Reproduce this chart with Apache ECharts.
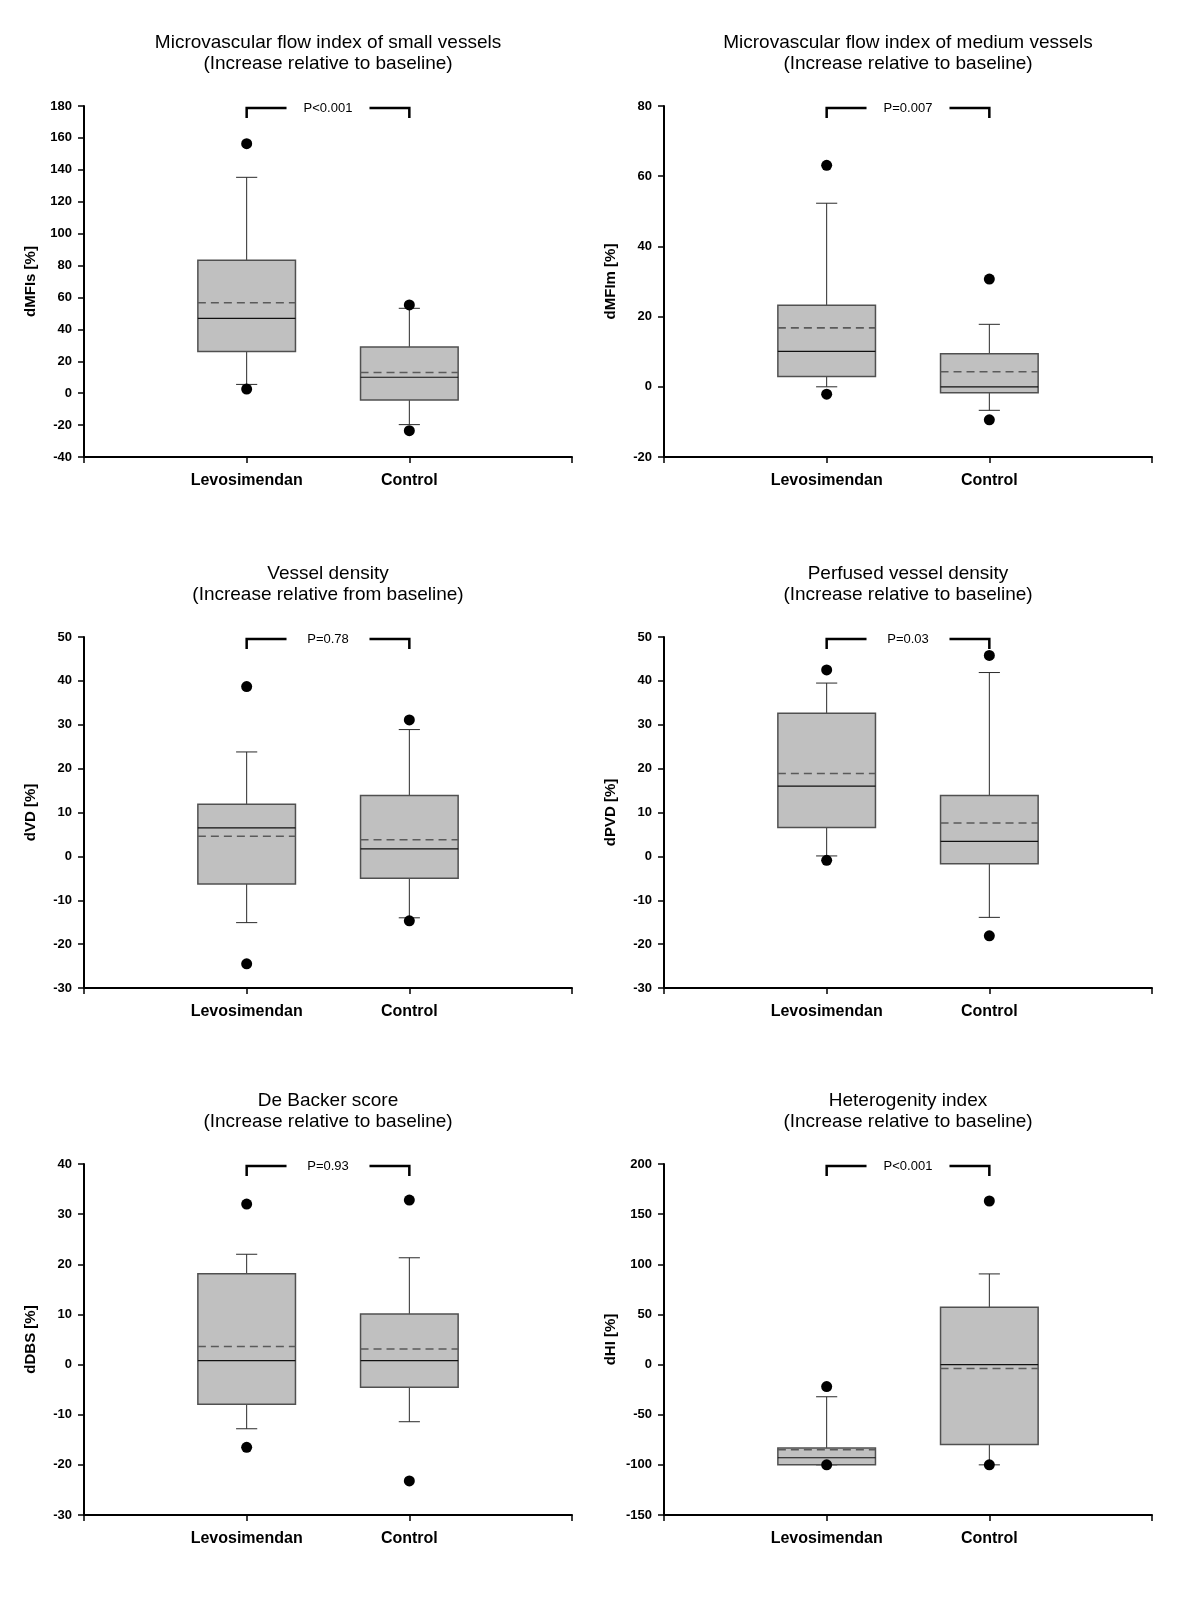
<!DOCTYPE html>
<html>
<head>
<meta charset="utf-8">
<script src="https://cdn.jsdelivr.net/npm/echarts@6/dist/echarts.min.js"></script>
<style>
html, body { margin: 0; padding: 0; background: #fff; }
#chart { width: 1200px; height: 1600px; }
</style>
</head>
<body>
<div id="chart"></div>
<script>
// groups on the x axis (placed at x = 1 and x = 2)
var groups = ['Levosimendan', 'Control'];

var titles = [
	'Microvascular flow index of small vessels\n(Increase relative to baseline)',
	'Microvascular flow index of medium vessels\n(Increase relative to baseline)',
	'Vessel density\n(Increase relative from baseline)',
	'Perfused vessel density\n(Increase relative to baseline)',
	'De Backer score\n(Increase relative to baseline)',
	'Heterogenity index\n(Increase relative to baseline)'
];
var axisNames = ['dMFIs [%]', 'dMFIm [%]', 'dVD [%]', 'dPVD [%]', 'dDBS [%]', 'dHI [%]'];
var pValues = ['P<0.001', 'P=0.007', 'P=0.78', 'P=0.03', 'P=0.93', 'P<0.001'];

var yMin = [-40, -20, -30, -30, -30, -150];
var yMax = [180, 80, 50, 50, 40, 200];
var yStep = [20, 20, 10, 10, 10, 50];

// box stats: [lower whisker, Q1, median, Q3, upper whisker, mean]
var levoStats = [
	[5.5, 26.2, 46.9, 83.3, 135.3, 56.7],
	[0, 2.9, 10.1, 23.2, 52.3, 16.8],
	[-15.1, -6.3, 6.5, 11.9, 23.8, 4.6],
	[0.1, 6.6, 16, 32.6, 39.5, 18.9],
	[-12.8, -7.9, 0.8, 18.1, 22, 3.6],
	[-100, -100, -92.9, -83.3, -32.1, -84.9]
];
var controlStats = [
	[-19.7, -4.3, 10, 29, 53.2, 13],
	[-6.7, -1.7, 0, 9.4, 17.8, 4.3],
	[-14, -5, 1.7, 13.9, 28.9, 3.8],
	[-13.9, -1.7, 3.4, 13.9, 41.9, 7.6],
	[-11.4, -4.5, 0.8, 10.1, 21.3, 3.1],
	[-100, -79.6, 0, 57.2, 90.4, -3.9]
];
// dots outside the whiskers: [low, high]
var levoOutliers = [
	[2.6, 156.4],
	[-2.1, 63.1],
	[-24.5, 38.7],
	[-0.9, 42.5],
	[-16.5, 32],
	[-100, -21.9]
];
var controlOutliers = [
	[-23.5, 55.3],
	[-9.4, 30.7],
	[-14.7, 31.1],
	[-18.1, 45.8],
	[-23.2, 32.8],
	[-100, 163.1]
];

var FONT = '"Liberation Sans", Arial, Helvetica, sans-serif';

function renderBox(params, api) {
	var x = api.value(0);
	var lo = api.coord([x, api.value(1)]);
	var q1 = api.coord([x, api.value(2)]);
	var med = api.coord([x, api.value(3)]);
	var q3 = api.coord([x, api.value(4)]);
	var hi = api.coord([x, api.value(5)]);
	var mean = api.coord([x, api.value(6)]);
	var unit = api.size([1, 0])[0];
	var bw = unit * 0.3, cw = unit * 0.065;
	var cx = q1[0];
	return {
		type: 'group',
		children: [
			{ type: 'line', shape: { x1: cx, y1: hi[1], x2: cx, y2: q3[1] }, style: { stroke: '#2a2a2a', lineWidth: 1 } },
			{ type: 'line', shape: { x1: cx - cw, y1: hi[1], x2: cx + cw, y2: hi[1] }, style: { stroke: '#2a2a2a', lineWidth: 1 } },
			{ type: 'line', shape: { x1: cx, y1: q1[1], x2: cx, y2: lo[1] }, style: { stroke: '#2a2a2a', lineWidth: 1 } },
			{ type: 'line', shape: { x1: cx - cw, y1: lo[1], x2: cx + cw, y2: lo[1] }, style: { stroke: '#2a2a2a', lineWidth: 1 } },
			{ type: 'rect', shape: { x: cx - bw, y: q3[1], width: 2 * bw, height: q1[1] - q3[1] },
				style: { fill: '#c0c0c0', stroke: '#505050', lineWidth: 1.5 } },
			{ type: 'line', shape: { x1: cx - bw, y1: med[1], x2: cx + bw, y2: med[1] },
				style: { stroke: '#111', lineWidth: 1.2 } },
			{ type: 'line', shape: { x1: cx - bw, y1: mean[1], x2: cx + bw, y2: mean[1] },
				style: { stroke: '#5a5a5a', lineWidth: 1.6, lineDash: [8, 5] } }
		]
	};
}

function makeBracket(label) {
	return function (params, api) {
		var a = api.coord([api.value(0), api.value(2)]);
		var b = api.coord([api.value(1), api.value(2)]);
		var unit = b[0] - a[0];
		var y = a[1] + 2;
		return {
			type: 'group',
			children: [
				{ type: 'polyline', shape: { points: [[a[0], y + 10], [a[0], y], [a[0] + unit * 0.245, y]] },
					style: { stroke: '#000', lineWidth: 2.5, fill: 'none' } },
				{ type: 'polyline', shape: { points: [[b[0] - unit * 0.245, y], [b[0], y], [b[0], y + 10]] },
					style: { stroke: '#000', lineWidth: 2.5, fill: 'none' } },
				{ type: 'text', x: (a[0] + b[0]) / 2, y: y,
					style: { text: label, fill: '#000', font: '13px ' + FONT, align: 'center', verticalAlign: 'middle' } }
			]
		};
	};
}

var colLeft = [84, 664];
var rowTop = [106, 637, 1164];
var gw = 488, gh = 351;

var option = { animation: false, backgroundColor: '#fff', title: [], grid: [], xAxis: [], yAxis: [], series: [] };

for (var i = 0; i < 6; i++) {
	var gLeft = colLeft[i % 2], gTop = rowTop[Math.floor(i / 2)];
	option.title.push({
		text: titles[i],
		left: gLeft + gw / 2,
		top: gTop - 74,
		textAlign: 'center',
		padding: 0,
		textStyle: { fontFamily: FONT, fontSize: 19, fontWeight: 'normal', color: '#000', lineHeight: 21 }
	});
	option.grid.push({ left: gLeft, top: gTop, width: gw, height: gh, containLabel: false });
	option.xAxis.push({
		type: 'value', gridIndex: i, min: 0, max: 3, interval: 1,
		splitLine: { show: false },
		axisLine: { show: true, onZero: false, lineStyle: { color: '#000', width: 2 } },
		axisTick: { show: true, inside: false, length: 6, lineStyle: { color: '#000', width: 1.5 } },
		axisLabel: {
			margin: 16, color: '#000', fontFamily: FONT, fontSize: 16, fontWeight: 'bold',
			formatter: function (v) { return groups[v - 1] || ''; }
		}
	});
	option.yAxis.push({
		type: 'value', gridIndex: i, min: yMin[i], max: yMax[i], interval: yStep[i],
		name: axisNames[i], nameLocation: 'middle', nameGap: 46, nameRotate: 90,
		nameTextStyle: { fontFamily: FONT, fontSize: 15, fontWeight: 'bold', color: '#000' },
		splitLine: { show: false },
		axisLine: { show: true, onZero: false, lineStyle: { color: '#000', width: 2 } },
		axisTick: { show: true, inside: false, length: 6, lineStyle: { color: '#000', width: 1.5 } },
		axisLabel: { margin: 12, color: '#000', fontFamily: FONT, fontSize: 13, fontWeight: 'bold' }
	});
	option.series.push({
		type: 'custom', xAxisIndex: i, yAxisIndex: i,
		renderItem: renderBox,
		data: [[1].concat(levoStats[i]), [2].concat(controlStats[i])]
	});
	option.series.push({
		type: 'scatter', xAxisIndex: i, yAxisIndex: i, z: 5,
		symbol: 'circle', symbolSize: 11,
		itemStyle: { color: '#000', opacity: 1 },
		data: [
			[1, levoOutliers[i][0]], [1, levoOutliers[i][1]],
			[2, controlOutliers[i][0]], [2, controlOutliers[i][1]]
		]
	});
	option.series.push({
		type: 'custom', xAxisIndex: i, yAxisIndex: i, clip: false,
		renderItem: makeBracket(pValues[i]),
		data: [[1, 2, yMax[i]]]
	});
}

var chart = echarts.init(document.getElementById('chart'));
chart.setOption(option);
</script>
</body>
</html>
